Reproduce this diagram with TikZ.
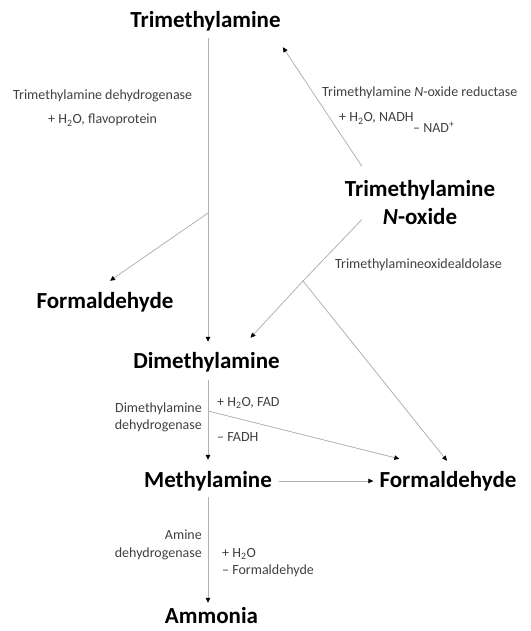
\documentclass[tikz,border=0pt]{standalone}
\usepackage{fontspec}
\setmainfont{Carlito}
\usetikzlibrary{arrows.meta}
\begin{document}
\begin{tikzpicture}[x=1pt,y=-1pt,line join=round,line cap=round,
		compound/.style={font=\fontsize{23}{28}\selectfont\bfseries,inner sep=0pt},
		single/.style={compound,text height=16pt,text depth=4pt},
		enzyme/.style={font=\fontsize{14}{17}\selectfont,text=black!75,inner sep=0pt},
		flow/.style={draw=black!30,line width=0.8pt,-{Triangle[black,length=5pt,width=4.5pt]}}]
	\useasboundingbox (0,0) rectangle (530,631);
	
	\node[single,anchor=base] (tma) at (205.5,28) {Trimethylamine};
	\node[compound,align=center,anchor=north] (tmao) at (420,180) {Trimethylamine\\\textit{N}-oxide};
	\node[single,anchor=base] (fa1) at (105,308) {Formaldehyde};
	\node[single,anchor=base] (dma) at (206.5,368) {Dimethylamine};
	\node[single,anchor=base] (ma) at (208,487) {Methylamine};
	\node[single,anchor=base] (fa2) at (448,487) {Formaldehyde};
	\node[single,anchor=base] (amm) at (211.5,623) {Ammonia};
	
	\coordinate (b1) at (208,213);
	\coordinate (b2) at (303,281);
	\coordinate (b3) at (208,411);
	
	\node[enzyme,anchor=base west] (tmadh) at (13,100) {Trimethylamine dehydrogenase};
	\node[enzyme,anchor=base west] (tmadhin) at (48,124) {+ H\textsubscript{2}O, flavoprotein};
	\node[enzyme,anchor=base west] (tmaor) at (322,97) {Trimethylamine \textit{N}-oxide reductase};
	\node[enzyme,anchor=base west] (tmaorin) at (339,122) {+ H\textsubscript{2}O, NADH};
	\node[enzyme,anchor=base west] (tmaorout) at (413,133) {– NAD\textsuperscript{+}};
	\node[enzyme,anchor=base west] (aldolase) at (335,268) {Trimethylamineoxidealdolase};
	\node[enzyme,anchor=base east] (dmadh) at (202,412) {Dimethylamine};
	\node[enzyme,anchor=base east] (dmadhb) at (202,429) {dehydrogenase};
	\node[enzyme,anchor=base west] (dmain) at (217,406) {+ H\textsubscript{2}O, FAD};
	\node[enzyme,anchor=base west] (dmaout) at (217,441) {– FADH};
	\node[enzyme,anchor=base east] (amdh) at (202,539) {Amine};
	\node[enzyme,anchor=base east] (amdhb) at (202,557) {dehydrogenase};
	\node[enzyme,anchor=base west] (amin) at (222,557) {+ H\textsubscript{2}O};
	\node[enzyme,anchor=base west] (amout) at (222,574) {– Formaldehyde};
	
	\draw[flow,shorten <=6pt,shorten >=10pt] (tma.south -| b1) -- (dma.north -| b1);
	\draw[flow] (b1) -- ([shift={(5,-11)}]fa1.north);
	\draw[flow] ([shift={(17,-14)}]tmao.north west) -- ([shift={(2,15)}]tma.south east);
	\draw[flow] ([shift={(17,-5)}]tmao.south west) -- (b2) -- ([shift={(44,-14)}]dma.north);
	\draw[flow] (b2) -- ([shift={(-1,-10)}]fa2.north);
	\draw[flow,shorten <=8pt,shorten >=11pt] (dma.south -| b3) -- (ma.north -| b3);
	\draw[flow] (b3) -- ([shift={(20,-12)}]fa2.north west);
	\draw[flow,shorten <=7pt,shorten >=6pt] (ma.east) -- (fa2.west);
	\draw[flow,shorten <=6pt,shorten >=4pt] (ma.south -| b3) -- (amm.north -| b3);
\end{tikzpicture}
\end{document}
